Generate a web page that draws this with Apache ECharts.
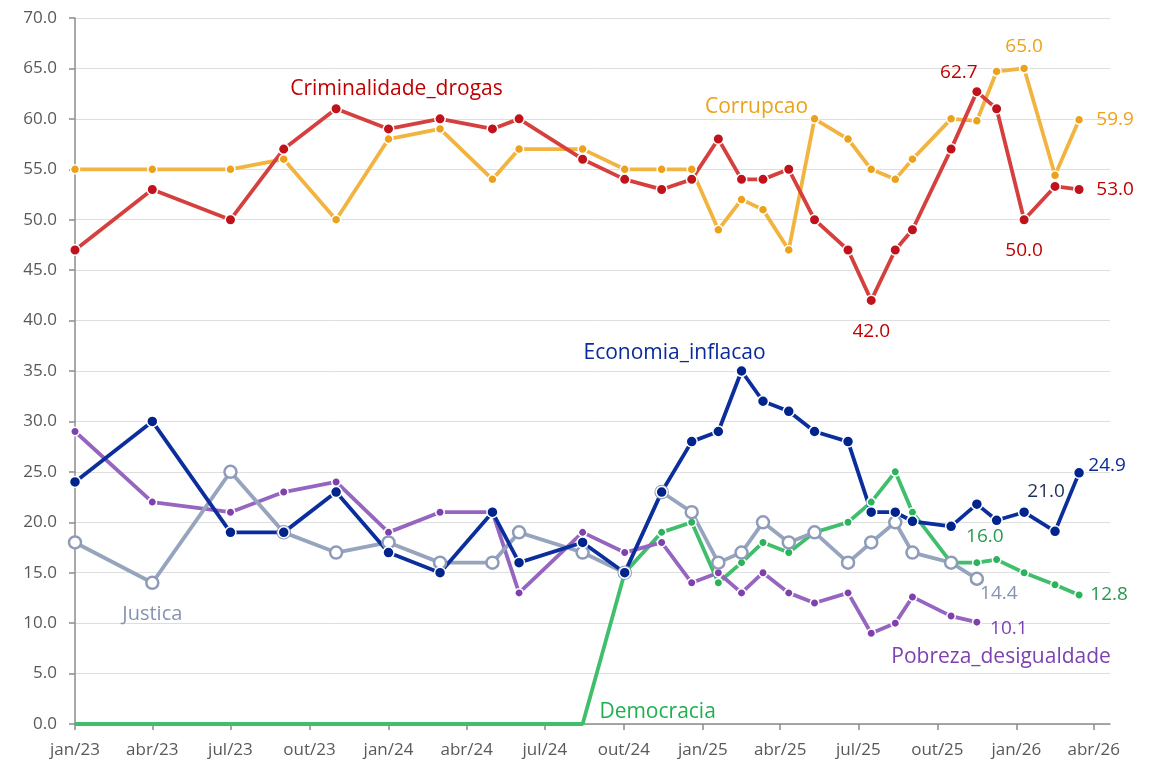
<!DOCTYPE html>
<html>
<head>
<meta charset="utf-8">
<script src="https://cdn.jsdelivr.net/npm/echarts@6/dist/echarts.min.js"></script>
<style>
html,body{margin:0;padding:0;background:#fff;}
#chart{width:1158px;height:765px;}
</style>
</head>
<body>
<div id="chart"></div>
<script>
// ---- DATA ----
const dates = ['2023-01-01','2023-04-01','2023-07-01','2023-09-01','2023-11-01','2024-01-01','2024-03-01','2024-05-01','2024-06-01','2024-08-14','2024-10-02','2024-11-14','2024-12-19','2025-01-19','2025-02-15','2025-03-12','2025-04-11','2025-05-11','2025-06-19','2025-07-16','2025-08-13','2025-09-02','2025-10-17','2025-11-16','2025-12-09','2026-01-10','2026-02-15','2026-03-15'];
const criminalidade = [47,53,50,57,61,59,60,59,60,56,54,53,54,58,54,54,55,50,47,42,47,49,57,62.7,61,50,53.3,53.0];
const corrupcao = [55,55,55,56,50,58,59,54,57,57,55,55,55,49,52,51,47,60,58,55,54,56,60,59.8,64.7,65.0,54.4,59.9];
const economia = [24,30,19,19,23,17,15,21,16,18,15,23,28,29,35,32,31,29,28,21,21,20.1,19.6,21.8,20.2,21.0,19.1,24.9];
const justica = [18,14,25,19,17,18,16,16,19,17,15,23,21,16,17,20,18,19,16,18,20,17,16,14.4];
const pobreza = [29,22,21,23,24,19,21,21,13,19,17,18,14,15,13,15,13,12,13,9,10,12.6,10.7,10.1];
const democracia = [0,0,0,0,0,0,0,0,0,0,15,19,20,14,16,18,17,19,20,22,25,21,16,16,16.3,15,13.8,12.8];
const tickDates = ['2023-01-01','2023-04-01','2023-07-01','2023-10-01','2024-01-01','2024-04-01','2024-07-01','2024-10-01','2025-01-01','2025-04-01','2025-07-01','2025-10-01','2026-01-01','2026-04-01'];
const tickLabels = ['jan/23','abr/23','jul/23','out/23','jan/24','abr/24','jul/24','out/24','jan/25','abr/25','jul/25','out/25','jan/26','abr/26'];
const axisStart = '2023-01-01';
const axisEnd = '2026-04-20';

// ---- helpers ----
function toDays(s){
  const p = s.split('-').map(Number);
  const b = axisStart.split('-').map(Number);
  return (Date.UTC(p[0],p[1]-1,p[2]) - Date.UTC(b[0],b[1]-1,b[2]))/86400000;
}
const xDays = dates.map(toDays);
const tickDays = tickDates.map(toDays);
const labelMap = {};
tickDays.forEach((d,i)=>{ labelMap[d] = tickLabels[i]; });

const FONT = '"Open Sans", "Noto Sans", sans-serif';

function lbl(text, color, dx, dy, size){
  return {show:true, formatter:text, position:'inside', offset:[dx,dy], color:color,
          fontSize:size||19, fontWeight:500, fontFamily:FONT, align:'center', verticalAlign:'middle'};
}

function build(values, labels, hideZero){
  return values.map((v,i)=>{
    const item = {value:[xDays[i], v]};
    if (hideZero && v === 0) item.symbolSize = 0;
    if (labels[i]) item.label = labels[i];
    return item;
  });
}

const cRed='#C00000', cOrange='#EDA11A', cNavy='#0A2A9A', cGrey='#8593B0', cPurple='#7E42B0';

const labelsCrim = {5: lbl('Criminalidade_drogas', cRed, 8, -40, 21), 23: lbl('62.7', cRed, -18, -19), 25: lbl('50.0', cRed, 0, 31), 19: lbl('42.0', cRed, 0, 31), 27: lbl('53.0', cRed, 36, 0)};
const labelsCorr = {17: lbl('Corrupcao', cOrange, -58, -12, 21), 25: lbl('65.0', cOrange, 0, -22), 27: lbl('59.9', cOrange, 36, 0)};
const labelsEco = {14: lbl('Economia_inflacao', cNavy, -67, -18, 21), 27: lbl('24.9', cNavy, 28, -7), 25: lbl('21.0', '#1E2F55', 22, -21)};
const labelsJus = {1: lbl('Justica', cGrey, 0, 31, 20), 23: lbl('14.4', cGrey, 22, 15)};
const labelsPob = {23: lbl('10.1', cPurple, 32, 6), 22: lbl('Pobreza_desigualdade', cPurple, 50, 41, 21)};
const labelsDem = {9: lbl('Democracia', '#1DB04F', 75, -12, 21), 23: lbl('16.0', '#2A9A50', 8, -26), 27: lbl('12.8', '#2A9A50', 30, 0)};

function series(name, values, labels, lineColor, dotColor, size, extra){
  const s = {
    name:name, type:'line', data:build(values, labels, name==='Democracia'),
    symbol:'circle', symbolSize:size, showAllSymbol:true,
    lineStyle:{color:lineColor, width:3.8},
    itemStyle:{color:dotColor, borderColor:'#ffffff', borderWidth:1.5},
    emphasis:{disabled:true}, animation:false, z:2
  };
  return Object.assign(s, extra||{});
}

const option = {
  animation:false,
  backgroundColor:'#ffffff',
  grid:{left:75, right:48, top:18, bottom:41, containLabel:false},
  xAxis:{
    type:'value', min:0, max:toDays(axisEnd),
    axisLine:{show:true, lineStyle:{color:'#8c8c8c', width:1.5}},
    axisTick:{show:true, customValues:tickDays, length:6, lineStyle:{color:'#8c8c8c', width:1.5}},
    axisLabel:{show:true, customValues:tickDays, formatter:(v)=>labelMap[v]||'', color:'#595959', fontSize:17, fontFamily:FONT, margin:18},
    splitLine:{show:false}
  },
  yAxis:{
    type:'value', min:0, max:70, interval:5,
    axisLine:{show:true, lineStyle:{color:'#8c8c8c', width:1.5}},
    axisTick:{show:true, length:6, lineStyle:{color:'#8c8c8c', width:1.5}},
    axisLabel:{formatter:(v)=>v.toFixed(1), color:'#595959', fontSize:17, fontFamily:FONT, margin:18},
    splitLine:{show:true, lineStyle:{color:'#dedede', width:1}}
  },
  series:[
    series('Democracia', democracia, labelsDem, '#3FBE6C', '#2BB35C', 8.5),
    series('Pobreza_desigualdade', pobreza, labelsPob, '#9565C0', '#7F40AE', 8.5),
    series('Justica', justica, labelsJus, '#97A4BE', '#ffffff', 12, {itemStyle:{color:'#ffffff', borderColor:'#8E9CB9', borderWidth:2.5}}),
    series('Economia_inflacao', economia, labelsEco, '#0B2E9C', '#00238C', 11),
    series('Corrupcao', corrupcao, labelsCorr, '#F2B440', '#EBA11B', 9),
    series('Criminalidade_drogas', criminalidade, labelsCrim, '#D5403F', '#C0121B', 10.5)
  ]
};
const chart = echarts.init(document.getElementById('chart'), null, {renderer:'canvas'});
chart.setOption(option);
</script>
</body>
</html>
